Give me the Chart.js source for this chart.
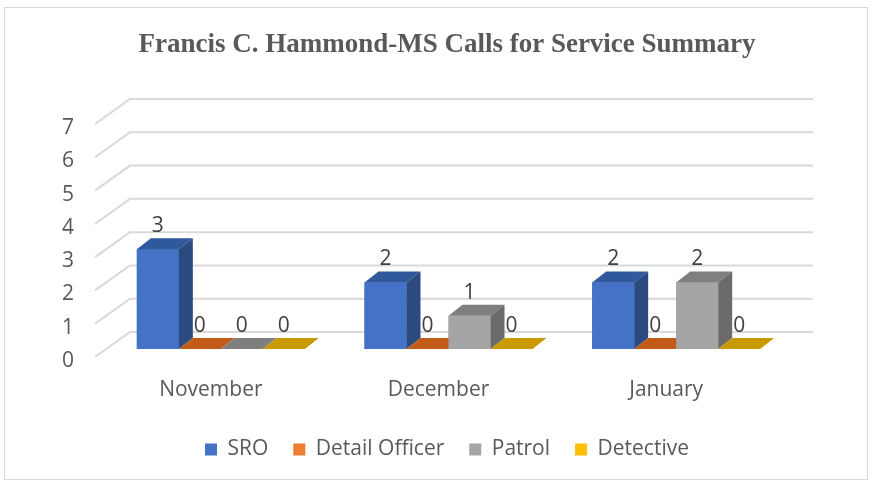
<!DOCTYPE html>
<html>
<head>
<meta charset="utf-8">
<script src="https://cdn.jsdelivr.net/npm/chart.js@4.4.1/dist/chart.umd.min.js"></script>
<style>
html, body { margin: 0; padding: 0; background: #fff; }
canvas { display: block; }
</style>
</head>
<body>
<canvas id="callsChart" width="873" height="485"></canvas>
<script>
// data
var months = ['November', 'December', 'January'];
var seriesNames = ['SRO', 'Detail Officer', 'Patrol', 'Detective'];
var sroCalls = [3, 2, 2];
var detailOfficerCalls = [0, 0, 0];
var patrolCalls = [0, 1, 2];
var detectiveCalls = [0, 0, 0];
var yTicks = [0, 1, 2, 3, 4, 5, 6, 7];

// front / top / side shades for the fake 3d bars
var frontColors = ['#4472C4', '#ED7D31', '#A5A5A5', '#FFC000'];
var topColors = ['#30599C', '#C25A18', '#7F7F7F', '#C99A00'];
var sideColors = ['#2B4A80', '#A44A0E', '#6B6B6B', '#A67F00'];

var textColor = '#595959';
var sansFont = '"Open Sans", "Liberation Sans", sans-serif';
var DX = 14, DY = 11; // depth of a bar

var frame = {
    id: 'frame',
    beforeDraw: function(chart) {
        var ctx = chart.ctx;
        ctx.save();
        ctx.fillStyle = '#fff';
        ctx.fillRect(0, 0, chart.width, chart.height);
        ctx.strokeStyle = '#d9d9d9';
        ctx.lineWidth = 1;
        ctx.strokeRect(4.5, 7.5, 863, 472);
        ctx.restore();
    }
};

// gridlines with the little side wall
var wall = {
    id: 'wall',
    beforeDatasetsDraw: function(chart) {
        var ctx = chart.ctx, y = chart.scales.y, area = chart.chartArea;
        ctx.save();
        ctx.strokeStyle = '#d9d9d9';
        ctx.lineWidth = 2;
        yTicks.forEach(function(v) {
            var p = y.getPixelForValue(v);
            ctx.beginPath();
            ctx.moveTo(area.left - 12, p + 8);
            ctx.lineTo(area.left + 23, p - 17);
            ctx.lineTo(area.right + 23, p - 17);
            ctx.stroke();
        });
        ctx.restore();
    }
};

// bars redrawn left to right with top and side faces, then the labels
var bars3d = {
    id: 'bars3d',
    afterDatasetsDraw: function(chart) {
        var ctx = chart.ctx;
        var metas = chart.data.datasets.map(function(d, i) { return chart.getDatasetMeta(i); });
        ctx.save();
        for (var j = 0; j < months.length; j++) {
            metas.forEach(function(meta, i) {
                var b = meta.data[j].getProps(['x', 'y', 'base', 'width'], true);
                var l = b.x - b.width / 2, r = b.x + b.width / 2, t = b.y, bot = b.base;
                ctx.fillStyle = frontColors[i];
                ctx.fillRect(l, t, r - l, bot - t);
                ctx.fillStyle = topColors[i];
                ctx.beginPath();
                ctx.moveTo(l, t);
                ctx.lineTo(r, t);
                ctx.lineTo(r + DX, t - DY);
                ctx.lineTo(l + DX, t - DY);
                ctx.closePath();
                ctx.fill();
                if (bot - t > 0) {
                    ctx.fillStyle = sideColors[i];
                    ctx.beginPath();
                    ctx.moveTo(r, t);
                    ctx.lineTo(r + DX, t - DY);
                    ctx.lineTo(r + DX, bot - DY);
                    ctx.lineTo(r, bot);
                    ctx.closePath();
                    ctx.fill();
                }
            });
        }
        ctx.font = '21px ' + sansFont;
        ctx.fillStyle = '#404040';
        ctx.textAlign = 'center';
        ctx.textBaseline = 'middle';
        metas.forEach(function(meta, i) {
            meta.data.forEach(function(bar, j) {
                var b = bar.getProps(['x', 'y'], true);
                ctx.fillText(String(chart.data.datasets[i].data[j]), b.x, b.y - 23);
            });
        });
        ctx.restore();
    }
};

var ctx = document.getElementById('callsChart').getContext('2d');
var callsChart = new Chart(ctx, {
    type: 'bar',
    data: {
        labels: months,
        datasets: [
            { label: seriesNames[0], data: sroCalls, backgroundColor: frontColors[0] },
            { label: seriesNames[1], data: detailOfficerCalls, backgroundColor: frontColors[1] },
            { label: seriesNames[2], data: patrolCalls, backgroundColor: frontColors[2] },
            { label: seriesNames[3], data: detectiveCalls, backgroundColor: frontColors[3] }
        ]
    },
    options: {
        responsive: false,
        devicePixelRatio: 1,
        animation: false,
        datasets: {
            bar: { borderWidth: 0, categoryPercentage: 0.738, barPercentage: 1.0 }
        },
        layout: { padding: { top: 10, left: 26, right: 5, bottom: 15 } },
        plugins: {
            title: {
                display: true,
                text: 'Francis C. Hammond-MS Calls for Service Summary',
                color: textColor,
                font: { family: '"Liberation Serif", serif', size: 27, weight: 'bold', lineHeight: 1.2 },
                padding: { top: 19, bottom: 54.6 }
            },
            legend: {
                position: 'bottom',
                labels: {
                    boxWidth: 12,
                    boxHeight: 12,
                    padding: 25,
                    color: textColor,
                    font: { family: sansFont, size: 21 }
                }
            },
            tooltip: { enabled: false }
        },
        scales: {
            x: {
                grid: { display: false, drawTicks: false },
                border: { display: false },
                ticks: { padding: 28, labelOffset: -10, color: textColor, font: { family: sansFont, size: 21 } },
                afterFit: function(s) { s.height = 65; }
            },
            y: {
                position: 'left',
                min: 0,
                max: 7,
                grid: { display: false, drawTicks: false },
                border: { display: false },
                ticks: { stepSize: 1, padding: 33, labelOffset: 12, color: textColor, font: { family: sansFont, size: 21 } },
                afterFit: function(s) { s.width = 81; }
            },
            yRight: {
                type: 'linear',
                position: 'right',
                grid: { display: false, drawTicks: false },
                border: { display: false },
                ticks: { display: false },
                afterFit: function(s) { s.width = 78; }
            }
        }
    },
    plugins: [frame, wall, bars3d]
});
</script>
</body>
</html>
